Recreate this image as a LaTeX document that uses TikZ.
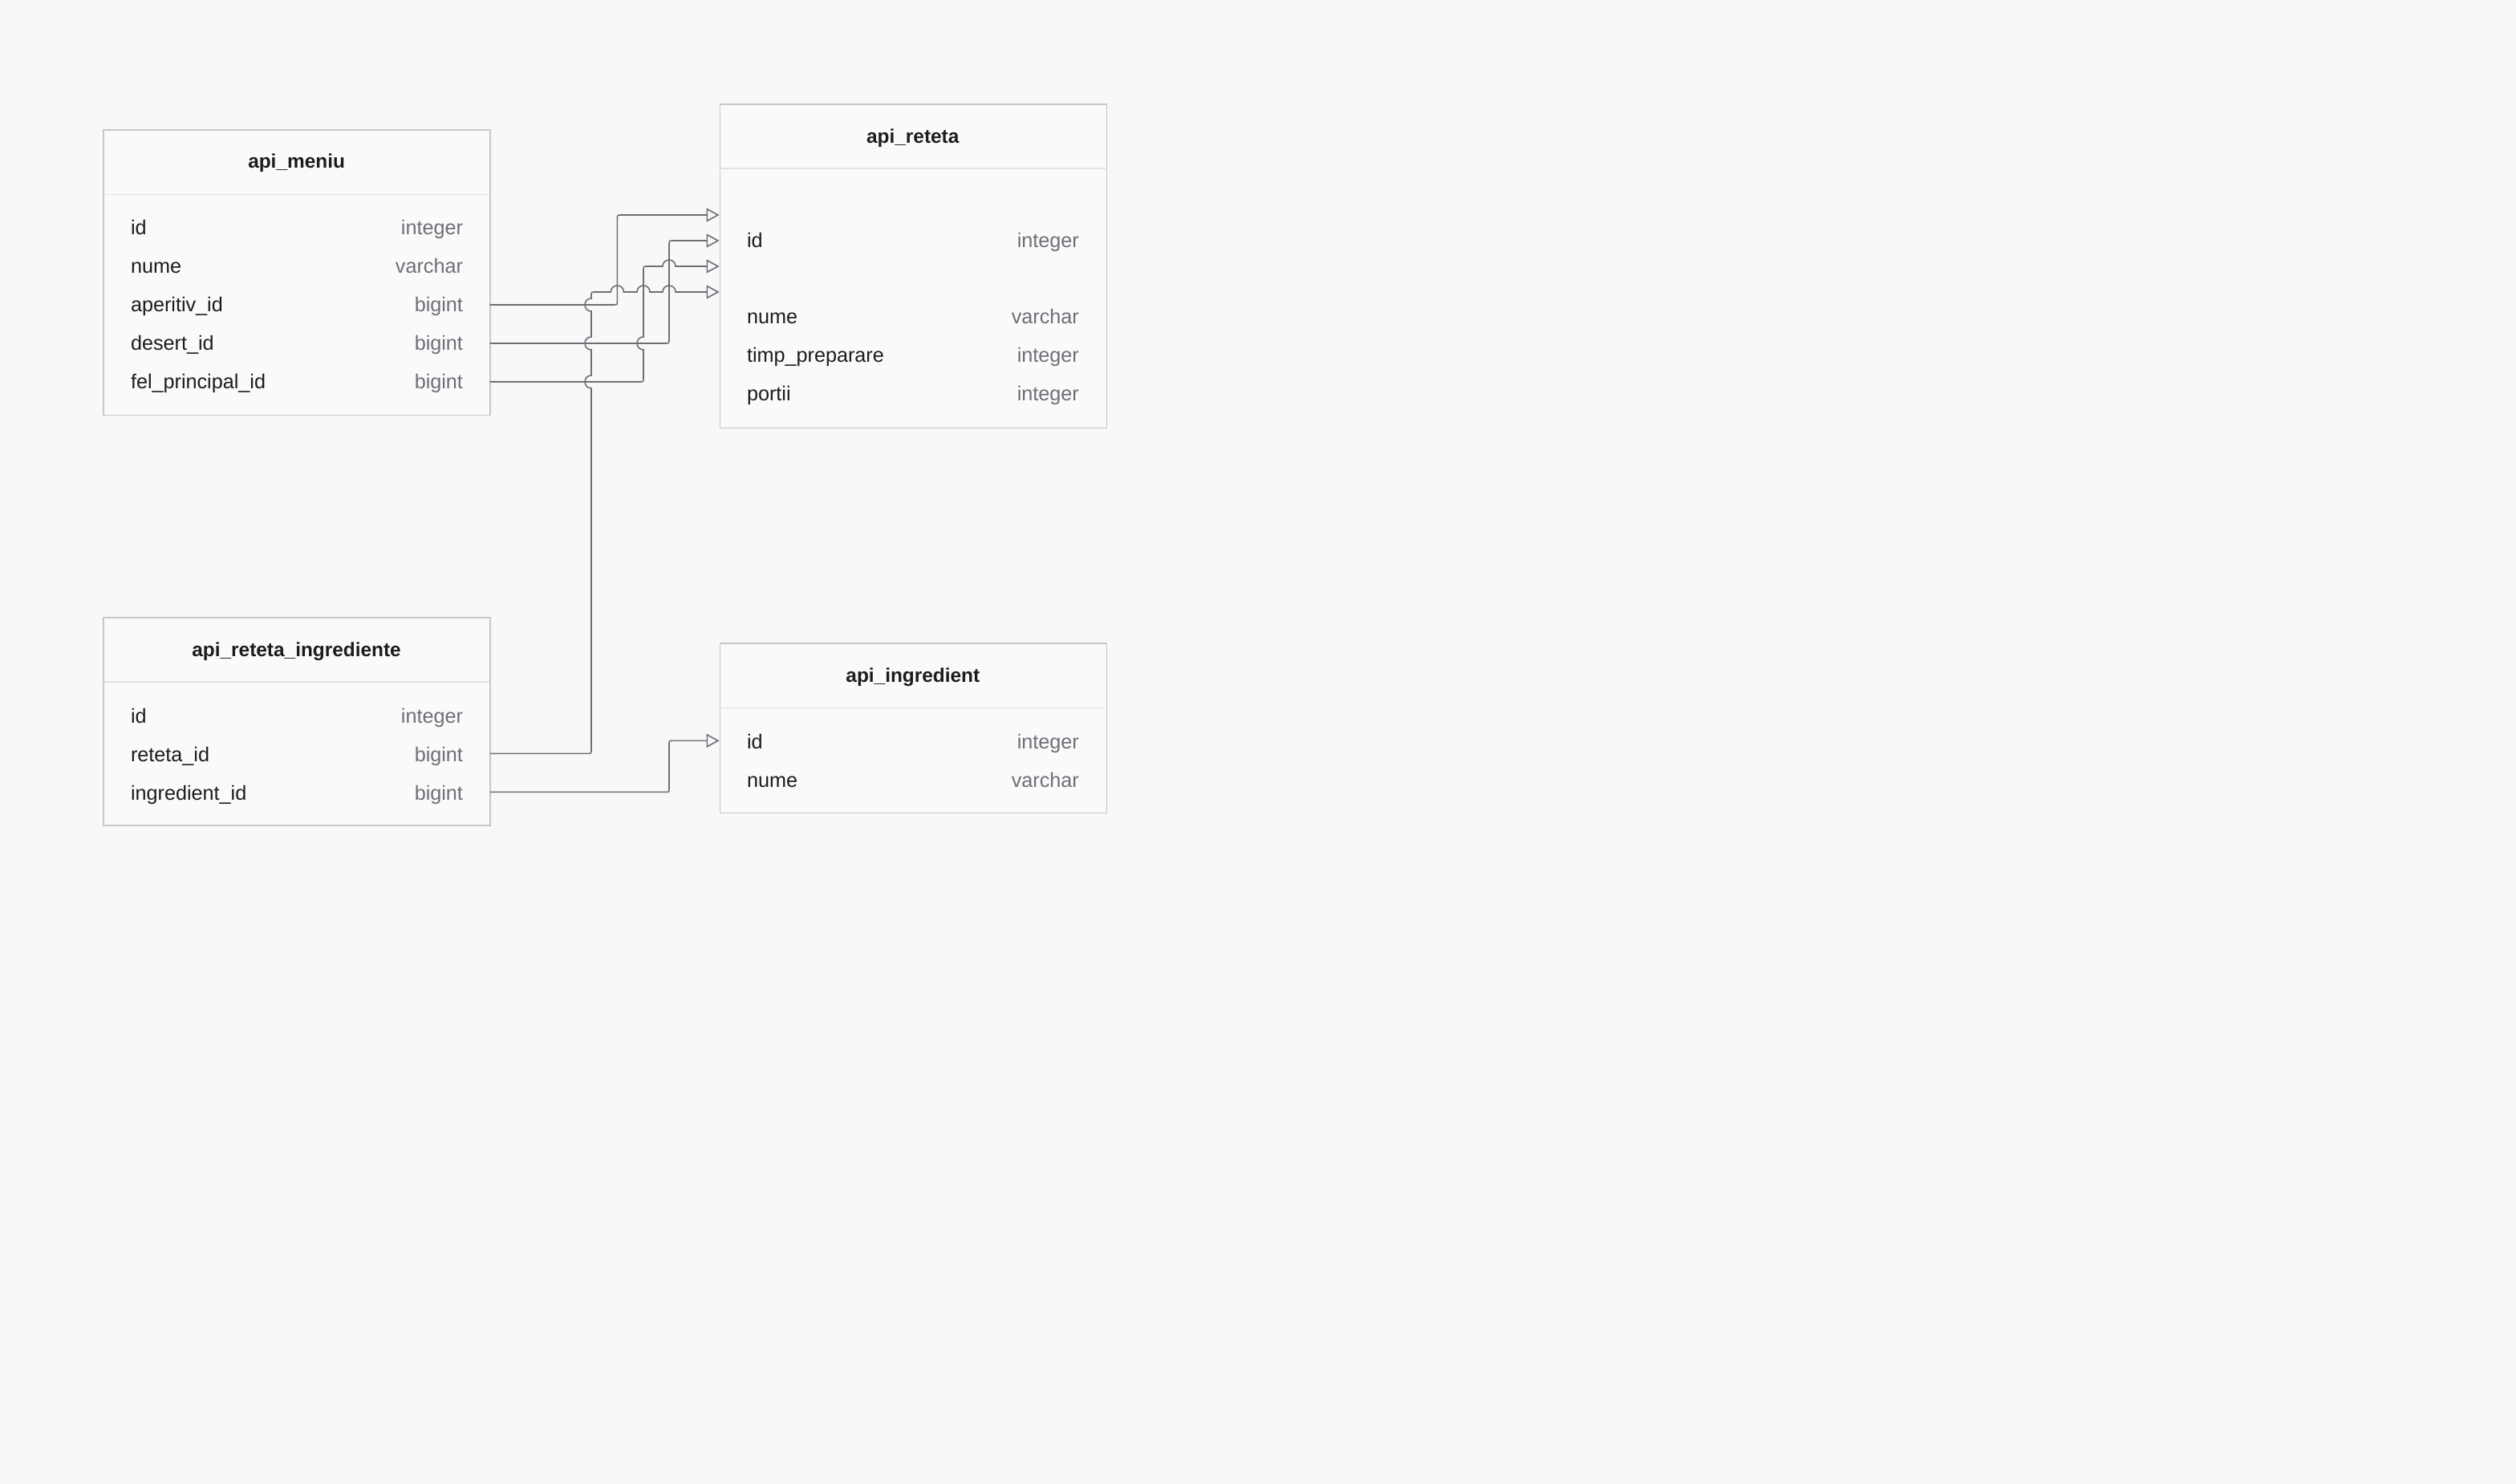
\documentclass[tikz,border=0pt]{standalone}
\usepackage{fontspec}
\setmainfont{Liberation Sans}
\usetikzlibrary{arrows.meta}
\definecolor{bgcol}{HTML}{F8F8F8}
\definecolor{boxfill}{HTML}{FAFAFA}
\definecolor{boxborder}{HTML}{C6C6CC}
\definecolor{headline}{HTML}{E2E2E5}
\definecolor{namecol}{HTML}{1C1C1F}
\definecolor{typecol}{HTML}{6E6E77}
\definecolor{linecol}{HTML}{6E6E76}
\tikzset{
  tablebox/.style={draw=boxborder, fill=boxfill, line width=0.8pt, minimum width=241pt, inner sep=0pt, anchor=north west},
  titletext/.style={anchor=base, inner sep=0pt, text=namecol, font=\fontsize{12.2}{14}\selectfont\bfseries},
  fieldname/.style={anchor=base west, inner sep=0pt, text=namecol, font=\fontsize{12.6}{15}\selectfont},
  fieldtype/.style={anchor=base east, inner sep=0pt, text=typecol, font=\fontsize{12.6}{15}\selectfont},
  sepline/.style={draw=headline, line width=0.8pt},
  conn/.style={draw=linecol, line width=0.8pt, line join=round},
  connarrow/.style={conn, -{Triangle[open, length=8pt, width=8.5pt]}, line join=miter}
}
% vertical line going up at x=#1, jumping (bulge left) over horizontal at y=#2
\newcommand{\vjmp}[2]{-- ({#1},{#2+4}) .. controls ({#1-5.3},{#2+4}) and ({#1-5.3},{#2-4}) .. ({#1},{#2-4})}
% horizontal line going right, jumping (bulge up) over vertical at x=#1
\newcommand{\hjmp}[2]{-- ({#1-4},{#2}) .. controls ({#1-4},{#2-5.3}) and ({#1+4},{#2-5.3}) .. ({#1+4},{#2})}
\begin{document}
\begin{tikzpicture}[x=1pt, y=-1pt]
\fill[bgcol] (0,0) rectangle (1568,925);
\useasboundingbox (0,0) rectangle (1568,925);

% ---------- api_meniu ----------
\node[tablebox, minimum height=177.8pt] (meniu) at (64.2,80.5) {};
\draw[sepline] (64.6,121.3) -- (304.9,121.3);
\node[titletext] (meniu-title) at (184.8,105) {api\_meniu};
\node[fieldname] (meniu-n1) at (81.3,146.5) {id};
\node[fieldtype] (meniu-t1) at (288.7,146.5) {integer};
\node[fieldname] (meniu-n2) at (81.3,170.5) {nume};
\node[fieldtype] (meniu-t2) at (288.7,170.5) {varchar};
\node[fieldname] (meniu-n3) at (81.3,194.5) {aperitiv\_id};
\node[fieldtype] (meniu-t3) at (288.7,194.5) {bigint};
\node[fieldname] (meniu-n4) at (81.3,218.5) {desert\_id};
\node[fieldtype] (meniu-t4) at (288.7,218.5) {bigint};
\node[fieldname] (meniu-n5) at (81.3,242.5) {fel\_principal\_id};
\node[fieldtype] (meniu-t5) at (288.7,242.5) {bigint};

% ---------- api_reteta ----------
\node[tablebox, minimum height=201.8pt] (reteta) at (448.3,64.5) {};
\draw[sepline] (448.7,105) -- (689.1,105);
\node[titletext] (reteta-title) at (568.9,89.2) {api\_reteta};
\node[fieldname] (reteta-n1) at (465.3,154.3) {id};
\node[fieldtype] (reteta-t1) at (672.6,154.3) {integer};
\node[fieldname] (reteta-n2) at (465.3,202) {nume};
\node[fieldtype] (reteta-t2) at (672.6,202) {varchar};
\node[fieldname] (reteta-n3) at (465.3,226) {timp\_preparare};
\node[fieldtype] (reteta-t3) at (672.6,226) {integer};
\node[fieldname] (reteta-n4) at (465.3,250) {portii};
\node[fieldtype] (reteta-t4) at (672.6,250) {integer};

% ---------- api_reteta_ingrediente ----------
\node[tablebox, minimum height=129.7pt] (ri) at (64.2,384.5) {};
\draw[sepline] (64.6,425) -- (304.9,425);
\node[titletext] (ri-title) at (184.8,409) {api\_reteta\_ingrediente};
\node[fieldname] (ri-n1) at (81.3,450.5) {id};
\node[fieldtype] (ri-t1) at (288.7,450.5) {integer};
\node[fieldname] (ri-n2) at (81.3,474.5) {reteta\_id};
\node[fieldtype] (ri-t2) at (288.7,474.5) {bigint};
\node[fieldname] (ri-n3) at (81.3,498.5) {ingredient\_id};
\node[fieldtype] (ri-t3) at (288.7,498.5) {bigint};

% ---------- api_ingredient ----------
\node[tablebox, minimum height=105.8pt] (ing) at (448.3,400.5) {};
\draw[sepline] (448.7,441.3) -- (689.1,441.3);
\node[titletext] (ing-title) at (568.9,425) {api\_ingredient};
\node[fieldname] (ing-n1) at (465.3,466.5) {id};
\node[fieldtype] (ing-t1) at (672.6,466.5) {integer};
\node[fieldname] (ing-n2) at (465.3,490.5) {nume};
\node[fieldtype] (ing-t2) at (672.6,490.5) {varchar};

% ---------- ports ----------
\coordinate (p-aper) at (305.3,190);
\coordinate (p-desert) at (305.3,214);
\coordinate (p-fel) at (305.3,238);
\coordinate (p-ret) at (305.3,469.7);
\coordinate (p-ingr) at (305.3,493.7);
\coordinate (q-aper) at (448.3,134);
\coordinate (q-desert) at (448.3,150);
\coordinate (q-fel) at (448.3,166);
\coordinate (q-ret) at (448.3,182);
\coordinate (q-ingr) at (448.3,461.7);

% ---------- connectors ----------
% aperitiv_id -> api_reteta.id
\draw[connarrow] (p-aper) -- (382.2,190) .. controls (384.7,190) .. (384.7,187.5)
  -- (384.7,136.5) .. controls (384.7,134) .. (387.2,134) -- (q-aper);
% desert_id -> api_reteta.id
\draw[connarrow] (p-desert) -- (414.5,214) .. controls (417,214) .. (417,211.5)
  -- (417,152.5) .. controls (417,150) .. (419.5,150) -- (q-desert);
% fel_principal_id -> api_reteta.id
\draw[connarrow] (p-fel) -- (398.5,238) .. controls (401,238) .. (401,235.5)
  \vjmp{401}{214}
  -- (401,168.5) .. controls (401,166) .. (403.5,166)
  \hjmp{417}{166} -- (q-fel);
% reteta_id -> api_reteta.id
\draw[connarrow] (p-ret) -- (366,469.7) .. controls (368.5,469.7) .. (368.5,467.2)
  \vjmp{368.5}{238} \vjmp{368.5}{214} \vjmp{368.5}{190}
  -- (368.5,184.5) .. controls (368.5,182) .. (371,182)
  \hjmp{384.7}{182} \hjmp{401}{182} \hjmp{417}{182} -- (q-ret);
% ingredient_id -> api_ingredient.id
\draw[connarrow] (p-ingr) -- (414.5,493.7) .. controls (417,493.7) .. (417,491.2)
  -- (417,464.2) .. controls (417,461.7) .. (419.5,461.7) -- (q-ingr);
\end{tikzpicture}
\end{document}
